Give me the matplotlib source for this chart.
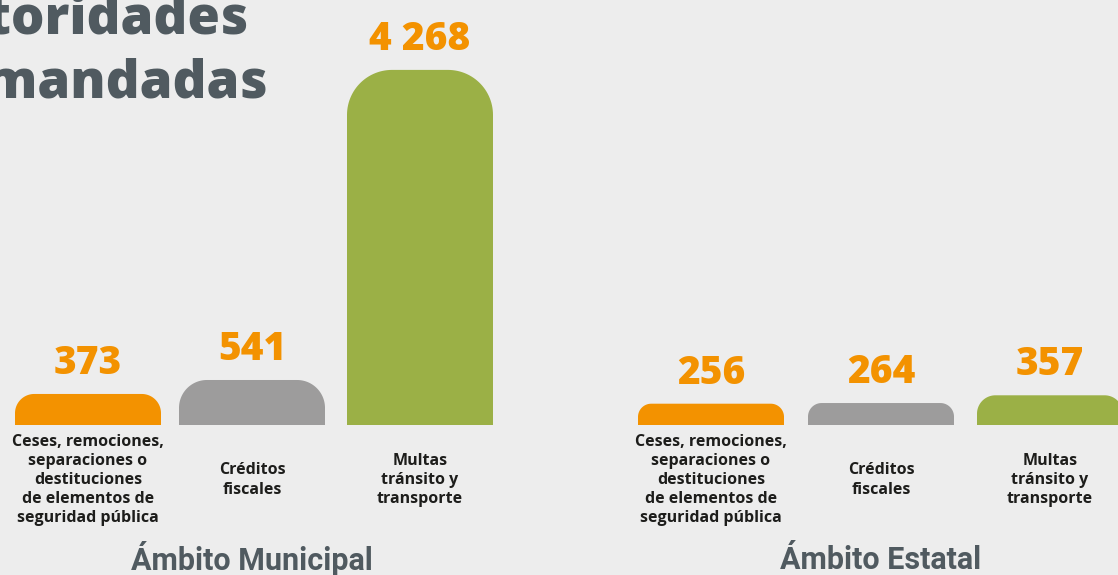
import numpy as np
import matplotlib
matplotlib.use('Agg')
import matplotlib.pyplot as plt
from matplotlib.patches import Polygon

# Data
categories = ['Ceses, remociones,\nseparaciones o\ndestituciones\nde elementos de\nseguridad pública',
              'Créditos\nfiscales',
              'Multas\ntránsito y\ntransporte']
municipal = [373, 541, 4268]
estatal = [256, 264, 357]
value_labels_mun = ['373', '541', '4 268']
value_labels_est = ['256', '264', '357']
groups = ['Ámbito Municipal', 'Ámbito Estatal']

BG = '#ededed'
COLORS = ['#f39200', '#9d9c9c', '#9bb046']
TITLE_C = '#505a60'

W, H = 1118, 575
PX_PER_UNIT = 0.0832
BASE_PX = 425  # baseline from top

fig = plt.figure(figsize=(W / 100, H / 100), dpi=100, facecolor=BG)
ax = fig.add_axes([0, 0, 1, 1])
ax.set_facecolor(BG)
ax.set_xlim(0, W)
ax.set_ylim(-(H - BASE_PX) / PX_PER_UNIT, BASE_PX / PX_PER_UNIT)
ax.axis('off')


def rounded_bar(xc, h, width, color):
    hp = h * PX_PER_UNIT
    r = min(0.62 * hp, 45)
    rx = r
    ry = r / PX_PER_UNIT
    x0, x1 = xc - width / 2, xc + width / 2
    t = np.linspace(0, np.pi / 2, 30)
    pts = [(x0, 0), (x1, 0), (x1, h - ry)]
    for a in t:
        pts.append((x1 - rx + rx * np.cos(a), h - ry + ry * np.sin(a)))
    for a in t:
        pts.append((x0 + rx - rx * np.sin(a), h - ry + ry * np.cos(a)))
    pts.append((x0, 0))
    ax.add_patch(Polygon(pts, closed=True, facecolor=color, edgecolor='none'))


def px2y(py):
    return (BASE_PX - py) / PX_PER_UNIT


width = 146
centers_mun = [88, 252, 420]
centers_est = [711, 881, 1050]

for centers, vals, labs in [(centers_mun, municipal, value_labels_mun),
                            (centers_est, estatal, value_labels_est)]:
    for i, (xc, v, lab) in enumerate(zip(centers, vals, labs)):
        rounded_bar(xc, v, width, COLORS[i])
        ax.annotate(lab, (xc, v), xytext=(0, 8), textcoords='offset points',
                    ha='center', va='bottom', fontsize=28, fontweight='heavy',
                    family='Open Sans', color='#f39200')
        ax.text(xc, px2y(480), categories[i], ha='center', va='center',
                fontsize=11.5, fontweight='bold', family='Open Sans', color='#1d1d1b',
                linespacing=1.25)

ax.text(252, px2y(558), groups[0], ha='center', va='center', fontsize=22,
        fontweight='bold', family='Roboto', color=TITLE_C)
ax.text(881, px2y(560), groups[1], ha='center', va='center', fontsize=22,
        fontweight='bold', family='Roboto', color=TITLE_C)

ax.text(248, px2y(33), 'Autoridades', ha='right', va='baseline', fontsize=38,
        fontweight='heavy', family='Open Sans', color=TITLE_C)
ax.text(268, px2y(97), 'demandadas', ha='right', va='baseline', fontsize=38,
        fontweight='heavy', family='Open Sans', color=TITLE_C)

fig.savefig('out.png', dpi=100, facecolor=BG)
